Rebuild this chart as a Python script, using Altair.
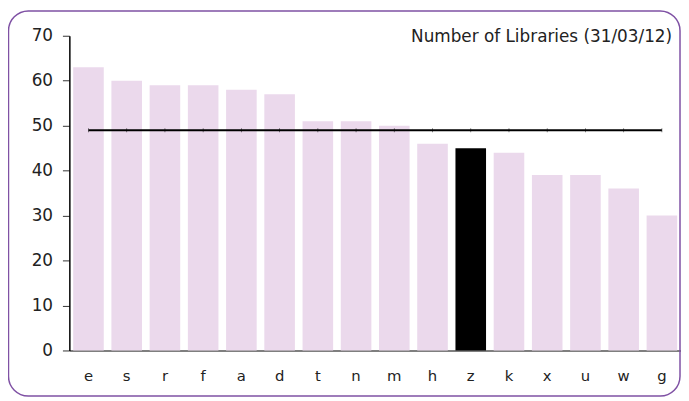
import altair as alt
import pandas as pd

categories = ["e", "s", "r", "f", "a", "d", "t", "n", "m", "h", "z", "k", "x", "u", "w", "g"]
values = [63, 60, 59, 59, 58, 57, 51, 51, 50, 46, 45, 44, 39, 39, 36, 30]
highlight = ["z"]
average = 49
title_text = "Number of Libraries (31/03/12)"

df = pd.DataFrame({
    "cat": categories,
    "val": values,
    "hl": [c in highlight for c in categories],
    "avg": [average] * len(categories),
})

FONT = "DejaVu Sans"

x = alt.X(
    "cat:N",
    sort=categories,
    scale=alt.Scale(paddingInner=0.2, paddingOuter=0.1),
    axis=alt.Axis(
        title=None, labelAngle=0, ticks=False, domainColor="#7f7f7f",
        domainWidth=2, labelFontSize=15, labelPadding=18, labelColor="#222",
        labelFont=FONT,
    ),
)

bars = alt.Chart(df).mark_bar().encode(
    x=x,
    y=alt.Y(
        "val:Q",
        scale=alt.Scale(domain=[0, 70], nice=False),
        axis=alt.Axis(
            title=None, values=[0, 10, 20, 30, 40, 50, 60, 70], grid=False,
            domainColor="#000", domainWidth=1.5, tickColor="#333", tickSize=7,
            labelFontSize=17, labelPadding=10, labelColor="#222", labelFont=FONT,
        ),
    ),
    color=alt.condition(alt.datum.hl, alt.value("#000000"), alt.value("#ebd9ec")),
)

line = alt.Chart(df).mark_line(color="#000", strokeWidth=2).encode(
    x=alt.X("cat:N", sort=categories),
    y=alt.Y("avg:Q"),
)

ticks = alt.Chart(df).mark_tick(color="#000", size=4, thickness=0.8, orient="vertical", opacity=0.6).encode(
    x=alt.X("cat:N", sort=categories),
    y=alt.Y("avg:Q"),
)

title_df = pd.DataFrame({"t": [title_text]})
title = alt.Chart(title_df).mark_text(
    align="right", baseline="alphabetic", fontSize=17, font=FONT, color="#222"
).encode(
    text="t:N", x=alt.value(609), y=alt.value(6)
)

frame = alt.Chart(pd.DataFrame({"f": [1]})).mark_rect(
    fill="transparent", stroke="#7f51a4", strokeWidth=1.5, cornerRadius=20
).encode(
    x=alt.value(-61.5), x2=alt.value(617), y=alt.value(-25), y2=alt.value(364)
)

chart = alt.layer(bars, line, ticks, title, frame).properties(
    width=618,
    height=318,
    autosize=alt.AutoSizeParams(type="none"),
    padding={"left": 62, "top": 26, "right": 0, "bottom": 47},
).configure_view(stroke=None)

chart.save("out.html", embed_options={"renderer": "svg", "actions": False})
